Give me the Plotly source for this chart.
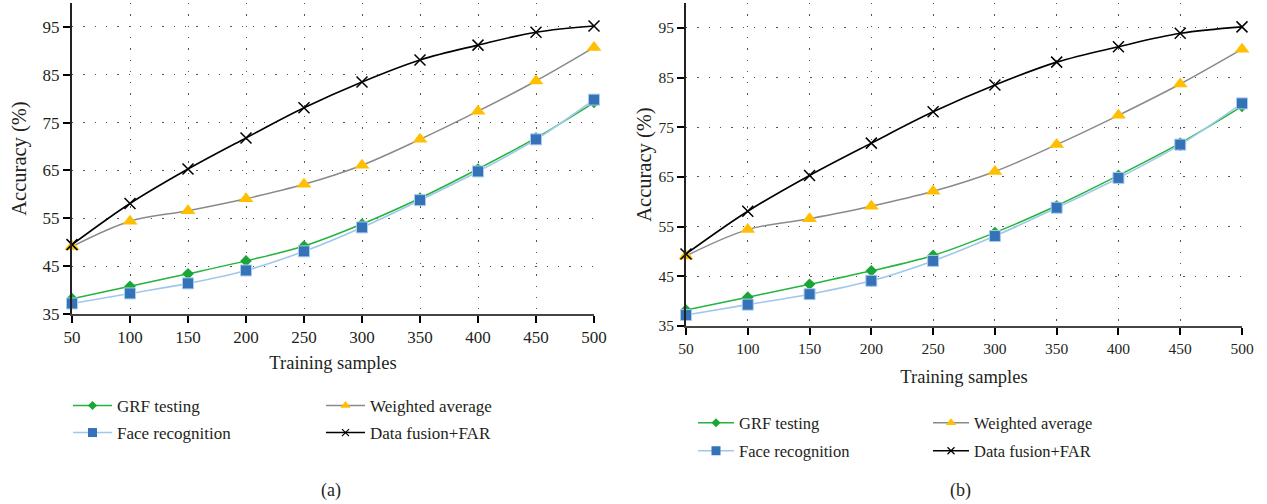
import plotly.graph_objects as go

samples = [50, 100, 150, 200, 250, 300, 350, 400, 450, 500]
grf = [38.2, 40.8, 43.4, 46.1, 49.2, 53.8, 59.2, 65.3, 71.8, 79.2]
face = [37.2, 39.3, 41.4, 44.1, 48.1, 53.1, 58.8, 64.8, 71.5, 79.8]
weighted = [49.1, 54.4, 56.6, 59.1, 62.1, 66.1, 71.5, 77.4, 83.7, 90.7]
fusion = [49.5, 58.1, 65.3, 71.8, 78.1, 83.5, 88.1, 91.2, 93.9, 95.2]

names = ["GRF testing", "Face recognition", "Weighted average", "Data fusion+FAR"]
x_ticks = [50, 100, 150, 200, 250, 300, 350, 400, 450, 500]
y_ticks = [35, 45, 55, 65, 75, 85, 95]

W, H = 1267, 504
SERIF = "Liberation Serif"
TXT = "#231f20"

line_styles = [
    dict(color="#22b43c", width=1.5, shape="spline"),
    dict(color="#9fc8ea", width=1.6, shape="spline"),
    dict(color="#8a8a8a", width=1.5, shape="spline"),
    dict(color="#000000", width=1.6, shape="spline"),
]
marker_styles = [
    dict(symbol="diamond", color="#1aa636", size=9, line=dict(width=0)),
    dict(symbol="square", color="#3572b8", size=11, line=dict(color="#a9cdee", width=1)),
    dict(symbol="triangle-up", color="#ffbf00", size=13, line=dict(width=0)),
    dict(symbol="x-thin", color="#000000", size=11, line=dict(color="#000000", width=1.5)),
]
legend_markers = [
    dict(symbol="diamond", color="#1aa636", size=7, line=dict(width=0)),
    dict(symbol="square", color="#3572b8", size=9, line=dict(width=0)),
    dict(symbol="triangle-up", color="#ffbf00", size=9, line=dict(width=0)),
    dict(symbol="x-thin", color="#000000", size=7, line=dict(color="#000000", width=1.2)),
]
series = [grf, face, weighted, fusion]

fig = go.Figure()

# legend: (legend box left px, vertical center px), item width, font size
leg_pos = {
    0: [(68, 406), (68, 433), (321, 406), (321, 433)],
    1: [(693, 423), (693, 451), (928, 423), (928, 451)],
}
leg_itemwidth = {0: 39, 1: 36}
leg_font = {0: 17, 1: 16.5}

layout_legends = {}
for p in range(2):
    xa = "x" if p == 0 else "x2"
    ya = "y" if p == 0 else "y2"
    for i, (nm, vals) in enumerate(zip(names, series)):
        fig.add_trace(go.Scatter(
            x=samples, y=vals, name=nm, mode="lines+markers",
            xaxis=xa, yaxis=ya, cliponaxis=False, showlegend=False,
            line=line_styles[i], marker=marker_styles[i],
        ))
    for i, nm in enumerate(names):
        lid = p * 4 + i + 1
        lname = "legend" if lid == 1 else f"legend{lid}"
        lw = dict(line_styles[i])
        lw.pop("shape")
        fig.add_trace(go.Scatter(
            x=[None], y=[None], name=nm, mode="lines+markers",
            xaxis=xa, yaxis=ya, legend=lname, showlegend=True,
            line=lw, marker=legend_markers[i],
        ))
        px, py = leg_pos[p][i]
        layout_legends[lname] = dict(
            x=px / W, y=1 - py / H, xanchor="left", yanchor="middle",
            font=dict(family=SERIF, size=leg_font[p], color=TXT),
            bgcolor="rgba(0,0,0,0)", borderwidth=0, itemwidth=leg_itemwidth[p],
        )

axis_common = dict(
    showgrid=True, gridcolor="#555", gridwidth=1.3, griddash="1.3px,10px",
    zeroline=False, ticks="outside", ticklen=7, tickwidth=2, tickcolor="#000",
    automargin=False,
)

def xa_cfg(dom, anchor, tsize, standoff):
    d = dict(axis_common)
    d.update(domain=dom, anchor=anchor, range=[50, 500], tickvals=x_ticks,
             showline=True, linecolor="#444", linewidth=2,
             tickfont=dict(family=SERIF, size=tsize, color=TXT),
             title=dict(text="Training samples", font=dict(family=SERIF, size=18.5, color=TXT), standoff=standoff))
    return d

def ya_cfg(dom, anchor, tsize, standoff):
    d = dict(axis_common)
    d.update(domain=dom, anchor=anchor, range=[35, 100], tickvals=y_ticks,
             showline=True, linecolor="#222", linewidth=2,
             tickfont=dict(family=SERIF, size=tsize, color=TXT),
             title=dict(text="Accuracy (%)", font=dict(family=SERIF, size=20.5, color=TXT), standoff=standoff))
    return d

fig.update_layout(
    width=W, height=H,
    margin=dict(l=0, r=0, t=0, b=0),
    plot_bgcolor="white", paper_bgcolor="white",
    showlegend=True,
    xaxis=xa_cfg([72 / W, 594 / W], "y", 17, 10),
    yaxis=ya_cfg([1 - 314 / H, 1 - 3 / H], "x", 17, 10),
    xaxis2=xa_cfg([686 / W, 1242 / W], "y2", 15.5, 14),
    yaxis2=ya_cfg([1 - 326 / H, 1 - 3 / H], "x2", 15.5, 1),
    annotations=[
        dict(text="(a)", x=331 / W, y=1 - 490 / H, xref="paper", yref="paper",
             xanchor="center", yanchor="middle",
             showarrow=False, font=dict(family=SERIF, size=18, color=TXT)),
        dict(text="(b)", x=960 / W, y=1 - 490 / H, xref="paper", yref="paper",
             xanchor="center", yanchor="middle",
             showarrow=False, font=dict(family=SERIF, size=18, color=TXT)),
    ],
    **layout_legends,
)

fig.write_html("out.html", config={"displayModeBar": False},
               post_script="document.body.style.margin='0px';document.body.style.padding='0px';")
